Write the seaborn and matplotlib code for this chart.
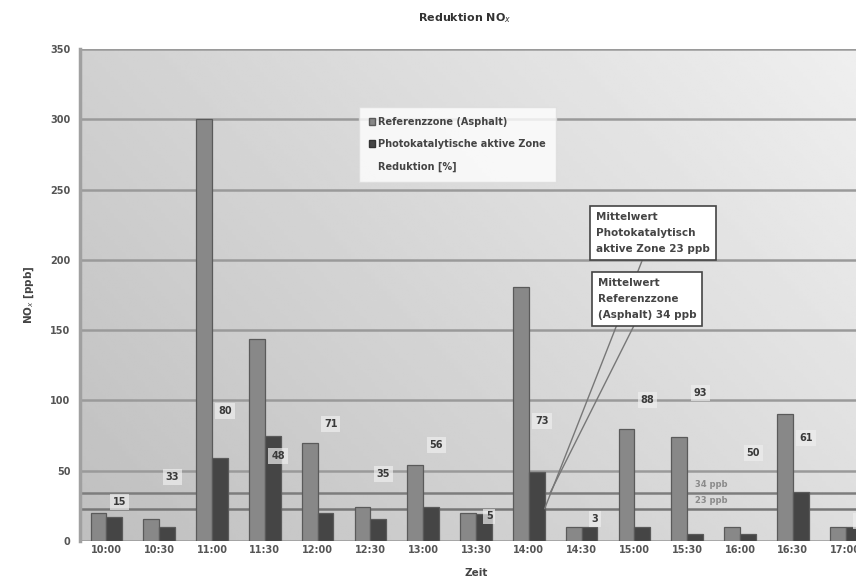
import numpy as np
import pandas as pd
import matplotlib
matplotlib.use("Agg")
import matplotlib.pyplot as plt
from matplotlib.patches import Patch
import seaborn as sns

# Messzeitpunkte und NOx-Konzentrationen [ppb]
zeit = ["10:00", "10:30", "11:00", "11:30", "12:00", "12:30", "13:00", "13:30",
        "14:00", "14:30", "15:00", "15:30", "16:00", "16:30", "17:00"]
referenz = [20, 16, 300, 144, 70, 24, 54, 20, 181, 10, 80, 74, 10, 90, 10]
photokat = [17, 10, 59, 75, 20, 16, 24, 19, 49, 10, 10, 5, 5, 35, 10]
reduktion = [15, 33, 80, 48, 71, 35, 56, 5, 73, 3, 88, 93, 50, 61, 2]

# Mittelwerte [ppb]
mittel_ref = 34
mittel_photo = 23

serie_ref = "Referenzzone (Asphalt)"
serie_photo = "Photokatalytische aktive Zone"

df = pd.DataFrame({
    "Zeit": zeit * 2,
    "NOx": referenz + photokat,
    "Zone": [serie_ref] * len(zeit) + [serie_photo] * len(zeit),
})

sns.set_theme(style="white")
plt.rcParams["font.family"] = ["DejaVu Sans"]

fig = plt.figure(figsize=(8.56, 5.87), dpi=100)
fig.patch.set_facecolor("white")
ax = fig.add_axes([80 / 856, 1 - 541 / 587, 792 / 856, (541 - 49) / 587])

# grauer Verlauf im Diagrammbereich
gx, gy = np.meshgrid(np.linspace(0, 1, 200), np.linspace(0, 1, 200))
shade = 0.75 + 0.12 * gx + 0.07 * gy
ax.imshow(shade, cmap="gray", vmin=0, vmax=1, origin="lower", aspect="auto",
          extent=(0, 1, 0, 1), transform=ax.transAxes, zorder=0)

sns.barplot(data=df, x="Zeit", y="NOx", hue="Zone", order=zeit,
            hue_order=[serie_ref, serie_photo],
            palette=["#888888", "#454545"], width=0.6, dodge=True,
            edgecolor="#5a5a5a", linewidth=0.9, saturation=1, ax=ax, zorder=3,
            legend=False)

ax.set_xlim(-0.5, len(zeit) - 0.5)
ax.set_ylim(0, 350)
ax.set_yticks(np.arange(0, 351, 50))
ax.grid(axis="y", color="#9a9a9a", linewidth=1.8, zorder=1)
ax.set_axisbelow(True)
for s in ["top", "right", "bottom"]:
    ax.spines[s].set_visible(False)
ax.spines["left"].set_color("#a0a0a0")
ax.spines["left"].set_linewidth(2.5)

# Mittelwertlinien mit kleiner Beschriftung
ax.axhline(mittel_ref, color="#7d7d7d", linewidth=1.8, zorder=2)
ax.axhline(mittel_photo, color="#777777", linewidth=1.8, zorder=2)
for m in (mittel_ref, mittel_photo):
    ax.annotate(f"{m} ppb", xy=(11.45, m), xytext=(0, 3), textcoords="offset points",
                ha="center", va="bottom", fontsize=6, fontweight="bold",
                color="#8a8a8a", zorder=2)

# Reduktion in % als Beschriftung
for i, r in enumerate(reduktion):
    ax.annotate(f"{r}", xy=(i + 0.25, r), xytext=(0, 9), textcoords="offset points",
                ha="center", va="bottom", fontsize=7, fontweight="bold", color="#3a3a3a",
                bbox=dict(boxstyle="square,pad=0.3", fc="#eeeeee", ec="none", alpha=0.7),
                zorder=5)

tick_kw = dict(fontsize=7, fontweight="bold", color="#555555")
ax.tick_params(axis="x", length=0, pad=3)
ax.tick_params(axis="y", length=0, pad=7)
ax.set_xticks(range(len(zeit)))
ax.set_xticklabels(zeit, **tick_kw)
ax.set_yticklabels([str(v) for v in range(0, 351, 50)], **tick_kw)
ax.set_xlabel("Zeit", fontsize=7.5, fontweight="bold", color="#444444", labelpad=9)
ax.set_ylabel("NO$_x$ [ppb]", fontsize=7.5, fontweight="bold", color="#444444", labelpad=10)
fig.text(465 / 856, 1 - 18 / 587, "Reduktion NO$_x$", ha="center", va="center",
         fontsize=8, fontweight="bold", color="#333333")

# Legende
handles = [Patch(facecolor="#888888", edgecolor="#5a5a5a"),
           Patch(facecolor="#454545", edgecolor="#333333"),
           Patch(facecolor="none", edgecolor="none")]
leg = fig.legend(handles, [serie_ref, serie_photo, "Reduktion [%]"],
                 loc="upper left", bbox_to_anchor=(354 / 856, 1 - 102 / 587),
                 frameon=True, fancybox=False, handlelength=0.7,
                 handleheight=0.7, handletextpad=0.3, labelspacing=1.3,
                 borderpad=1.0, prop={"weight": "bold", "size": 7})
leg.get_frame().set_facecolor("white")
leg.get_frame().set_edgecolor("#dddddd")
for t in leg.get_texts():
    t.set_color("#444444")

# Hinweisboxen zu den Mittelwerten
box = dict(boxstyle="square,pad=0.55", fc="white", ec="#444444", lw=1.2)
ax.annotate(f"Mittelwert\nPhotokatalytisch\naktive Zone {mittel_photo} ppb",
            xy=(8.3, mittel_photo), xytext=(596 / 856, 1 - 212 / 587),
            textcoords="figure fraction", ha="left", va="top", fontsize=7.5,
            fontweight="bold", color="#444444", bbox=box, linespacing=1.75,
            arrowprops=dict(arrowstyle="-", color="#777777", lw=1.0, shrinkA=0, shrinkB=0),
            zorder=6)
ax.annotate(f"Mittelwert\nReferenzzone\n(Asphalt) {mittel_ref} ppb",
            xy=(8.4, mittel_ref), xytext=(598 / 856, 1 - 278 / 587),
            textcoords="figure fraction", ha="left", va="top", fontsize=7.5,
            fontweight="bold", color="#444444", bbox=box, linespacing=1.75,
            arrowprops=dict(arrowstyle="-", color="#777777", lw=1.0, shrinkA=0, shrinkB=0),
            zorder=6)

fig.savefig("out.png", dpi=100)
